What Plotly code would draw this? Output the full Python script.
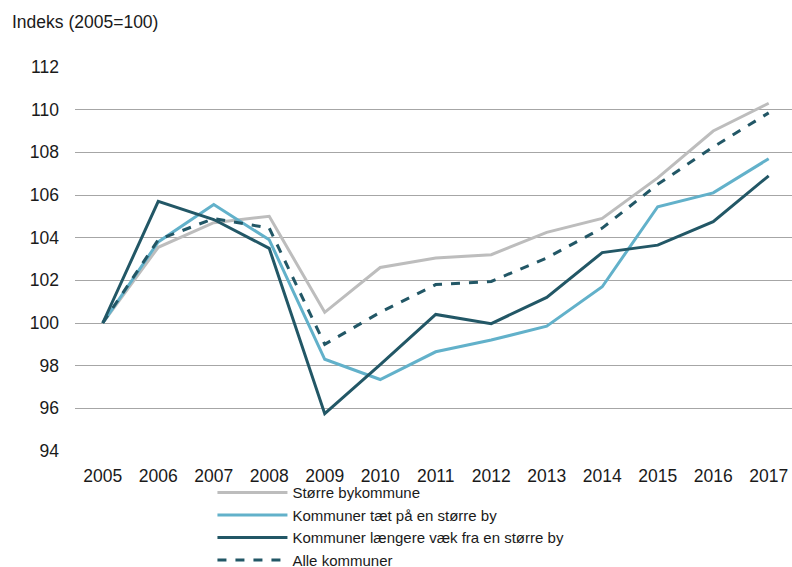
import plotly.graph_objects as go

years = [str(y) for y in range(2005, 2018)]
storre_by = [100.0, 103.55, 104.7, 105.0, 100.5, 102.6, 103.05, 103.2, 104.25, 104.9, 106.8, 109.0, 110.3]
taet_paa = [100.0, 103.8, 105.55, 103.9, 98.3, 97.35, 98.65, 99.2, 99.85, 101.7, 105.45, 106.1, 107.7]
laengere = [100.0, 105.7, 104.85, 103.5, 95.75, 98.05, 100.4, 99.97, 101.2, 103.3, 103.65, 104.75, 106.9]
alle = [100.0, 103.9, 104.9, 104.45, 99.0, 100.5, 101.8, 101.95, 103.05, 104.45, 106.5, 108.25, 109.85]

names = ["Større bykommune", "Kommuner tæt på en større by",
         "Kommuner længere væk fra en større by", "Alle kommuner"]
series = [storre_by, taet_paa, laengere, alle]
colors = ["#BDBDBD", "#62B1CA", "#225766", "#225766"]
dashes = ["solid", "solid", "solid", "dash"]

fig = go.Figure()
for i, (n, s, c, d) in enumerate(zip(names, series, colors, dashes)):
    fig.add_trace(go.Scatter(x=years, y=s, name=n, mode="lines",
                             line=dict(color=c, width=3, dash=d),
                             legendgroup=f"g{i}"))

fig.update_layout(
    width=792, height=567,
    margin=dict(l=75, r=0, t=67, b=116, autoexpand=False),
    paper_bgcolor="white", plot_bgcolor="white",
    font=dict(family="Liberation Sans, Arial, sans-serif", size=17, color="#1a1a1a"),
    showlegend=True,
    legend=dict(x=0.1917, y=-0.0655, xanchor="left", yanchor="top", orientation="v",
                tracegroupgap=0, itemwidth=70, font=dict(size=15),
                bgcolor="rgba(0,0,0,0)"),
    annotations=[dict(text="Indeks (2005=100)", xref="paper", yref="paper",
                      x=-0.0907, y=1.117, xanchor="left", yanchor="middle",
                      showarrow=False, font=dict(size=17.5))],
)
fig.update_xaxes(type="category", range=[-0.5, 12.42], showgrid=False,
                 showline=False, ticks="", tickfont=dict(size=17.5), tickangle=0,
                 ticklabelstandoff=12)
fig.update_yaxes(range=[94, 112], dtick=2, showgrid=True, gridcolor="#A6A6A6",
                 gridwidth=1, zeroline=False, showline=False,
                 ticklabelstandoff=15, tickfont=dict(size=17.5))

fig.write_html("out.html", config={"displayModeBar": False},
               post_script="document.body.style.margin='0';document.body.style.overflow='hidden';")
